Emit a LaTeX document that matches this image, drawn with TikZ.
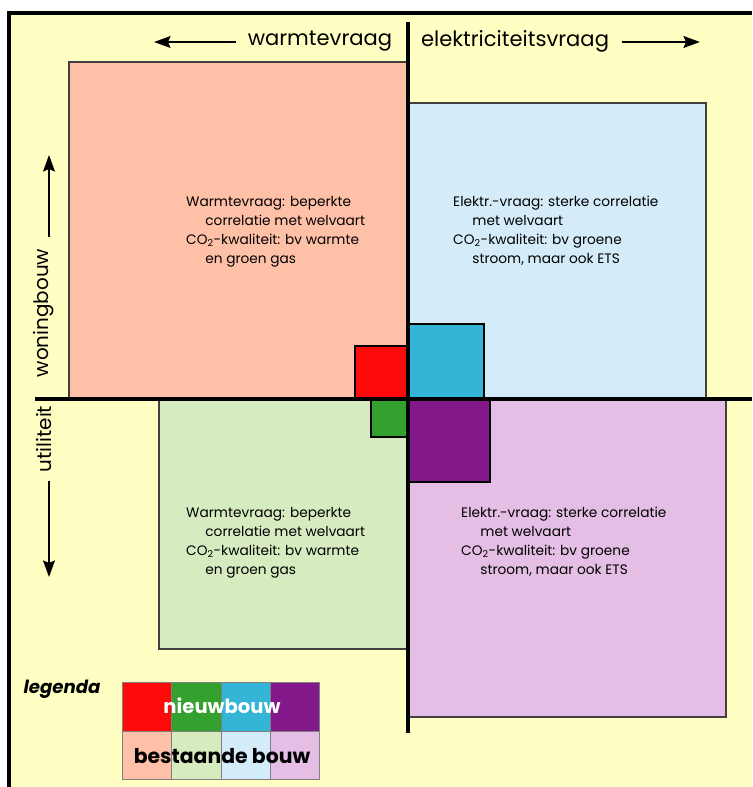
\documentclass[tikz,border=0pt]{standalone}
\usepackage{fontspec}
\setmainfont{Poppins}
\usetikzlibrary{arrows.meta}
\definecolor{achter}{HTML}{FFFFC4}
\definecolor{zalm}{HTML}{FFC0A8}
\definecolor{lichtblauw}{HTML}{D4ECF9}
\definecolor{lichtgroen}{HTML}{D6ECC0}
\definecolor{lichtpaars}{HTML}{E4BEE4}
\definecolor{rood}{HTML}{FF0A0A}
\definecolor{cyaan}{HTML}{34B4D6}
\definecolor{groen}{HTML}{34A02E}
\definecolor{paars}{HTML}{82188A}
\tikzset{
  blok/.style={draw=black!75,line width=1.3pt},
  vak/.style={draw=black,line width=1.6pt},
  as/.style={line width=2.6pt},
  pijl/.style={line width=2pt,-{Stealth[length=14pt,width=10pt,inset=2pt]}},
  uitleg/.style={align=left,anchor=north west,inner sep=0pt,font=\fontsize{11.7}{16.2}\selectfont},
  kop/.style={inner sep=0pt,font=\fontsize{18}{20}\selectfont},
  leg/.style={draw=black!50,line width=0.6pt}
}
\begin{document}
\begin{tikzpicture}[x=0.03cm,y=-0.03cm]
  \useasboundingbox (0,0) rectangle (752,787);
  \fill[achter] (9,13) rectangle (752,787);
  \draw[line width=2.6pt] (9,787) -- (9,13) -- (752,13);
  % vier kwadranten
  \draw[blok,fill=zalm] (69,62) rectangle (408,399);
  \draw[blok,fill=lichtblauw] (408,103) rectangle (706,399);
  \draw[blok,fill=lichtgroen] (159,399) rectangle (408,649);
  \draw[blok,fill=lichtpaars] (408,399) rectangle (726,717);
  % nieuwbouw
  \draw[vak,fill=rood] (355,346) rectangle (408,399);
  \draw[vak,fill=cyaan] (408,324) rectangle (484,399);
  \draw[vak,fill=groen] (371,399) rectangle (408,437);
  \draw[vak,fill=paars] (408,399) rectangle (490,482);
  % assen
  \draw[as] (408,22) -- (408,733);
  \draw[as] (35,399) -- (752,399);
  % teksten
  \node[uitleg] (wlinks) at (186,196) {Warmtevraag: beperkte\\\hspace*{1.4em}correlatie met welvaart\\CO\textsubscript{2}-kwaliteit: bv warmte\\\hspace*{1.4em}en groen gas};
  \node[uitleg] (erechts) at (453,196) {Elektr.-vraag: sterke correlatie\\\hspace*{1.4em}met welvaart\\CO\textsubscript{2}-kwaliteit: bv groene\\\hspace*{1.4em}stroom, maar ook ETS};
  \node[uitleg] (ulinks) at (186,507) {Warmtevraag: beperkte\\\hspace*{1.4em}correlatie met welvaart\\CO\textsubscript{2}-kwaliteit: bv warmte\\\hspace*{1.4em}en groen gas};
  \node[uitleg] (urechts) at (461,507) {Elektr.-vraag: sterke correlatie\\\hspace*{1.4em}met welvaart\\CO\textsubscript{2}-kwaliteit: bv groene\\\hspace*{1.4em}stroom, maar ook ETS};
  % richtingen
  \node[kop] (warmte) at (320,41) {warmtevraag};
  \node[kop] (elek) at (515,41) {elektriciteitsvraag};
  \node[kop,rotate=90,font=\fontsize{17}{20}\selectfont] (woning) at (44,313) {woningbouw};
  \node[kop,rotate=90,font=\fontsize{17}{20}\selectfont] (util) at (44,439) {utiliteit};
  \coordinate (w1) at (236,42);
  \coordinate (w2) at (154,42);
  \coordinate (e1) at (622,42);
  \coordinate (e2) at (700,42);
  \coordinate (h1) at (49,237);
  \coordinate (h2) at (49,155);
  \coordinate (u1) at (49,481);
  \coordinate (u2) at (49,577);
  \draw[pijl] (w1) -- (w2);
  \draw[pijl] (e1) -- (e2);
  \draw[pijl] (h1) -- (h2);
  \draw[pijl] (u1) -- (u2);
  % legenda
  \node[font=\bfseries\itshape\fontsize{15.5}{18}\selectfont] (legenda) at (62,689) {legenda};
  \draw[leg,fill=rood] (122,682) rectangle (171,731);
  \draw[leg,fill=groen] (171,682) rectangle (221,731);
  \draw[leg,fill=cyaan] (221,682) rectangle (270,731);
  \draw[leg,fill=paars] (270,682) rectangle (319,731);
  \draw[leg,fill=zalm] (122,731) rectangle (171,779);
  \draw[leg,fill=lichtgroen] (171,731) rectangle (221,779);
  \draw[leg,fill=lichtblauw] (221,731) rectangle (270,779);
  \draw[leg,fill=lichtpaars] (270,731) rectangle (319,779);
  \node[text=white,font=\bfseries\fontsize{16.7}{18}\selectfont] (nieuw) at (222,706) {nieuwbouw};
  \node[font=\bfseries\fontsize{17.4}{19}\selectfont] (bestaand) at (222,756) {bestaande bouw};
\end{tikzpicture}
\end{document}
